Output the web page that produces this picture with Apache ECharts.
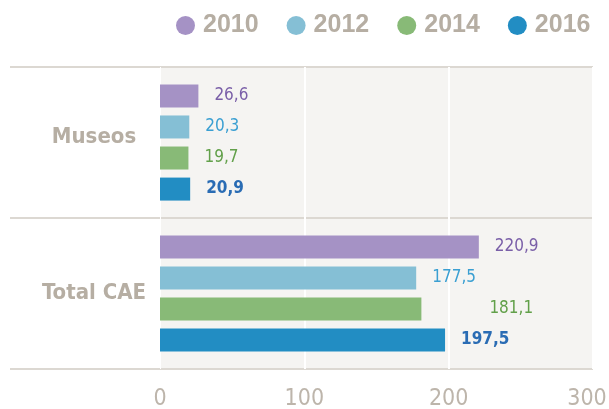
<!DOCTYPE html>
<html>
<head>
<meta charset="utf-8">
<script src="https://cdn.jsdelivr.net/npm/echarts@6/dist/echarts.min.js"></script>
<style>
  html, body { margin: 0; padding: 0; background: #ffffff; }
  #chart { width: 609px; height: 409px; }
</style>
</head>
<body>
<div id="chart"></div>
<script>
// Spending by year: museums vs. the whole cultural sector
const categories = ['Museos', 'Total CAE'];
const years = ['2010', '2012', '2014', '2016'];
const values2010 = [26.6, 220.9];
const values2012 = [20.3, 177.5];
const values2014 = [19.7, 181.1];
const values2016 = [20.9, 197.5];
const xTicks = [0, 100, 200, 300];

const seriesValues = [values2010, values2012, values2014, values2016];
const barColors = ['#a592c5', '#85bfd5', '#88ba77', '#228dc3'];
const labelColors = ['#7a5fa8', '#3a9fd2', '#62a04a', '#2a6cb4'];
const muted = '#b6aea3';
const tickGrey = '#bdb5ab';
const rule = '#dcd8d2';
const narrow = '"Liberation Sans Narrow", "DejaVu Sans Condensed", sans-serif';

const fmt = v => v.toFixed(1).replace('.', ',');

const series = years.map((y, s) => ({
  name: y,
  type: 'bar',
  barWidth: 23,
  barGap: '35%',
  itemStyle: { color: barColors[s] },
  label: {
    show: true,
    position: 'right',
    distance: 16,
    color: labelColors[s],
    fontFamily: narrow,
    fontSize: 17,
    fontWeight: s === 3 ? 'bold' : 'normal',
    formatter: p => fmt(p.value)
  },
  // the 2014 total label sits further out, clear of the 2010 label above it
  data: seriesValues[s].map((v, i) =>
    (s === 2 && i === 1) ? { value: v, label: { offset: [52, 0] } } : v)
}));

const lastTick = xTicks[xTicks.length - 1];

const chart = echarts.init(document.getElementById('chart'), null, { renderer: 'canvas' });
chart.setOption({
  animation: false,
  legend: {
    data: years.map(y => ({ name: y, icon: 'circle' })),
    left: 171,
    top: 8,
    itemWidth: 19,
    itemHeight: 19,
    itemGap: 28,
    textStyle: {
      color: muted,
      fontFamily: '"Liberation Sans", Arial, sans-serif',
      fontWeight: 'bold',
      fontSize: 25,
      padding: [0, 0, 0, 3]
    }
  },
  grid: {
    left: 160,
    right: 16,
    top: 67,
    bottom: 40,
    outerBoundsMode: 'none',
    containLabel: false,
    show: true,
    backgroundColor: '#f5f4f2',
    borderWidth: 0
  },
  xAxis: {
    type: 'value',
    min: xTicks[0],
    max: lastTick,
    interval: 100,
    axisLine: { show: false },
    axisTick: { show: false },
    splitLine: { show: true, lineStyle: { color: '#ffffff', width: 2 } },
    axisLabel: {
      color: tickGrey,
      fontFamily: narrow,
      fontSize: 23,
      margin: 19,
      // keep the last tick label inside the page edge
      formatter: v => !xTicks.includes(v) ? '' : (v === lastTick ? '{end|' + v + '}' : String(v)),
      rich: {
        end: {
          color: tickGrey,
          fontFamily: narrow,
          fontSize: 23,
          padding: [0, 12, 0, 0]
        }
      }
    }
  },
  yAxis: {
    type: 'category',
    data: categories,
    inverse: true,
    axisLine: { show: false },
    axisTick: {
      show: true,
      inside: false,
      length: 150,
      lineStyle: { color: rule, width: 2 }
    },
    splitLine: { show: true, lineStyle: { color: rule, width: 2 } },
    axisLabel: {
      color: muted,
      fontFamily: narrow,
      fontWeight: 'bold',
      fontSize: 22,
      align: 'center',
      margin: 66,
      // the first heading sits a little above its band's centre
      formatter: (v, i) => i === 0 ? '{up|' + v + '}' : v,
      rich: {
        up: {
          color: muted,
          fontFamily: narrow,
          fontWeight: 'bold',
          fontSize: 22,
          padding: [0, 0, 10, 0]
        }
      }
    }
  },
  series: series
});
</script>
</body>
</html>
